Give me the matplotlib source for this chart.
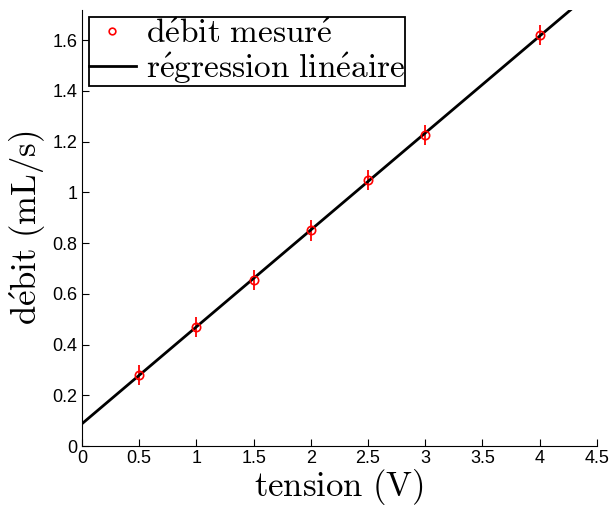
import numpy as np
import matplotlib
matplotlib.use("Agg")
import matplotlib.pyplot as plt

plt.rcParams['mathtext.fontset'] = 'cm'

tension = [0.5, 1.0, 1.5, 2.0, 2.5, 3.0, 4.0]
debit = [0.28, 0.47, 0.655, 0.85, 1.05, 1.225, 1.62]
erreur = [0.04, 0.04, 0.04, 0.04, 0.04, 0.04, 0.04]
pente = 0.382
ordonnee = 0.088
x_fit = [0.0, 4.6]

xticks = [0, 0.5, 1, 1.5, 2, 2.5, 3, 3.5, 4, 4.5]
xticklabels = ['0', '0.5', '1', '1.5', '2', '2.5', '3', '3.5', '4', '4.5']
yticks = [0, 0.2, 0.4, 0.6, 0.8, 1.0, 1.2, 1.4, 1.6]
yticklabels = ['0', '0.2', '0.4', '0.6', '0.8', '1', '1.2', '1.4', '1.6']

fig = plt.figure(figsize=(6.11, 5.07), dpi=100)
ax = fig.add_axes([0.134, 0.120, 0.843, 0.860])

ax.errorbar(tension, debit, yerr=erreur, fmt='none', ecolor='red', elinewidth=1.3, capsize=0, zorder=2)
pts, = ax.plot(tension, debit, 'o', mfc='none', mec='red', ms=6, mew=1.2, zorder=3,
               label=r'$\mathrm{d\acute{e}bit\ mesur\acute{e}}$')
y_fit = [pente * x + ordonnee for x in x_fit]
line, = ax.plot(x_fit, y_fit, color='black', lw=2, zorder=2,
                label=r'$\mathrm{r\acute{e}gression\ lin\acute{e}aire}$')

ax.set_xlim(0, 4.5)
ax.set_ylim(0, 1.718)
ax.set_xticks(xticks)
ax.set_xticklabels(xticklabels, family='Liberation Sans', fontsize=13)
ax.set_yticks(yticks)
ax.set_yticklabels(yticklabels, family='Liberation Sans', fontsize=13)
ax.tick_params(direction='in', length=5, width=0.8, top=False, right=False, pad=3)
ax.spines['top'].set_visible(False)
ax.spines['right'].set_visible(False)

ax.set_xlabel(r'$\mathrm{tension\ (V)}$', fontsize=25, labelpad=0)
ax.set_ylabel(r'$\mathrm{d\acute{e}bit\ (mL/s)}$', fontsize=25, labelpad=3)

leg = ax.legend(handles=[pts, line], loc='upper left', bbox_to_anchor=(0.0136, 0.984),
                fontsize=24, frameon=True, fancybox=False, edgecolor='black', framealpha=1,
                borderpad=0.0, handlelength=1.4, handletextpad=0.3, labelspacing=0.0,
                borderaxespad=0.0, markerscale=0.8)
leg.get_frame().set_linewidth(1.3)

fig.savefig('out.png', dpi=100)
